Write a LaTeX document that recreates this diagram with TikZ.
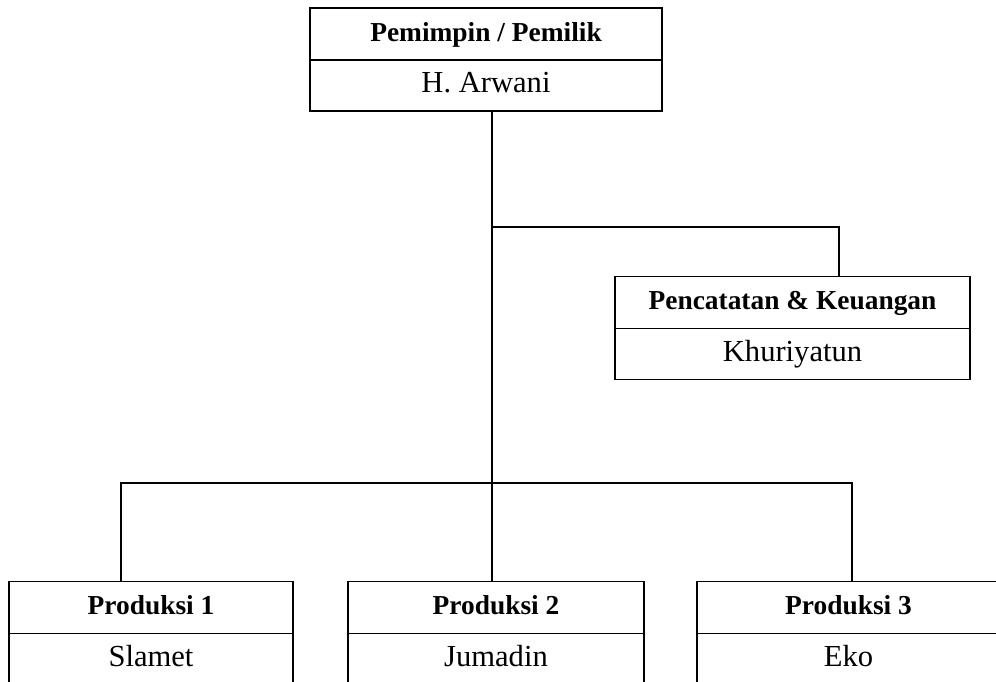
\documentclass[tikz,border=0pt]{standalone}
\usepackage{fontspec}
\setmainfont{Liberation Serif}
\usepackage{tikz}
\usetikzlibrary{positioning}
\tikzset{
  headbox/.style={draw, line width=0.9pt, inner sep=0pt, outer sep=0pt, minimum height=1.04cm,
    text height=0.8em, text depth=0pt, font=\fontsize{15.6}{18}\selectfont\bfseries},
  namebox/.style={draw, line width=0.9pt, inner sep=0pt, outer sep=0pt, minimum height=1.02cm,
    text height=0.8em, text depth=0pt, font=\fontsize{17.4}{20}\selectfont},
  conn/.style={line width=0.9pt}
}

\begin{document}
\begin{tikzpicture}[x=0.02cm, y=-0.02cm]
  \useasboundingbox (0,0) rectangle (996,681);
  \clip (0,0) rectangle (996,681);
  % boxes
  \node[headbox, minimum width=7.04cm] (lead) at (486,34) {Pemimpin / Pemilik};
  \node[namebox, minimum width=7.04cm, below=0pt of lead] (leadname) {H. Arwani};
  \node[headbox, minimum width=7.1cm] (keu) at (792.5,302.5) {Pencatatan \& Keuangan};
  \node[namebox, minimum width=7.1cm, below=0pt of keu] (keuname) {Khuriyatun};
  \node[headbox, minimum width=5.68cm] (prod1) at (151,607.5) {Produksi 1};
  \node[namebox, minimum width=5.68cm, below=0pt of prod1] (prod1name) {Slamet};
  \node[headbox, minimum width=5.92cm] (prod2) at (496,607.5) {Produksi 2};
  \node[namebox, minimum width=5.92cm, below=0pt of prod2] (prod2name) {Jumadin};
  \node[headbox, minimum width=6.06cm] (prod3) at (848.5,607.5) {Produksi 3};
  \node[namebox, minimum width=6.06cm, below=0pt of prod3] (prod3name) {Eko};
  % connectors
  \coordinate (trunk) at (492,111);
  \coordinate (branch) at (839,227);
  \coordinate (bus1) at (121,483);
  \coordinate (bus3) at (852,483);
  \draw[conn] (trunk) -- (trunk |- prod2.north);
  \draw[conn] (trunk |- branch) -| (branch |- keu.north);
  \draw[conn] (bus1 |- prod1.north) |- (bus3) -- (bus3 |- prod3.north);
\end{tikzpicture}
\end{document}
